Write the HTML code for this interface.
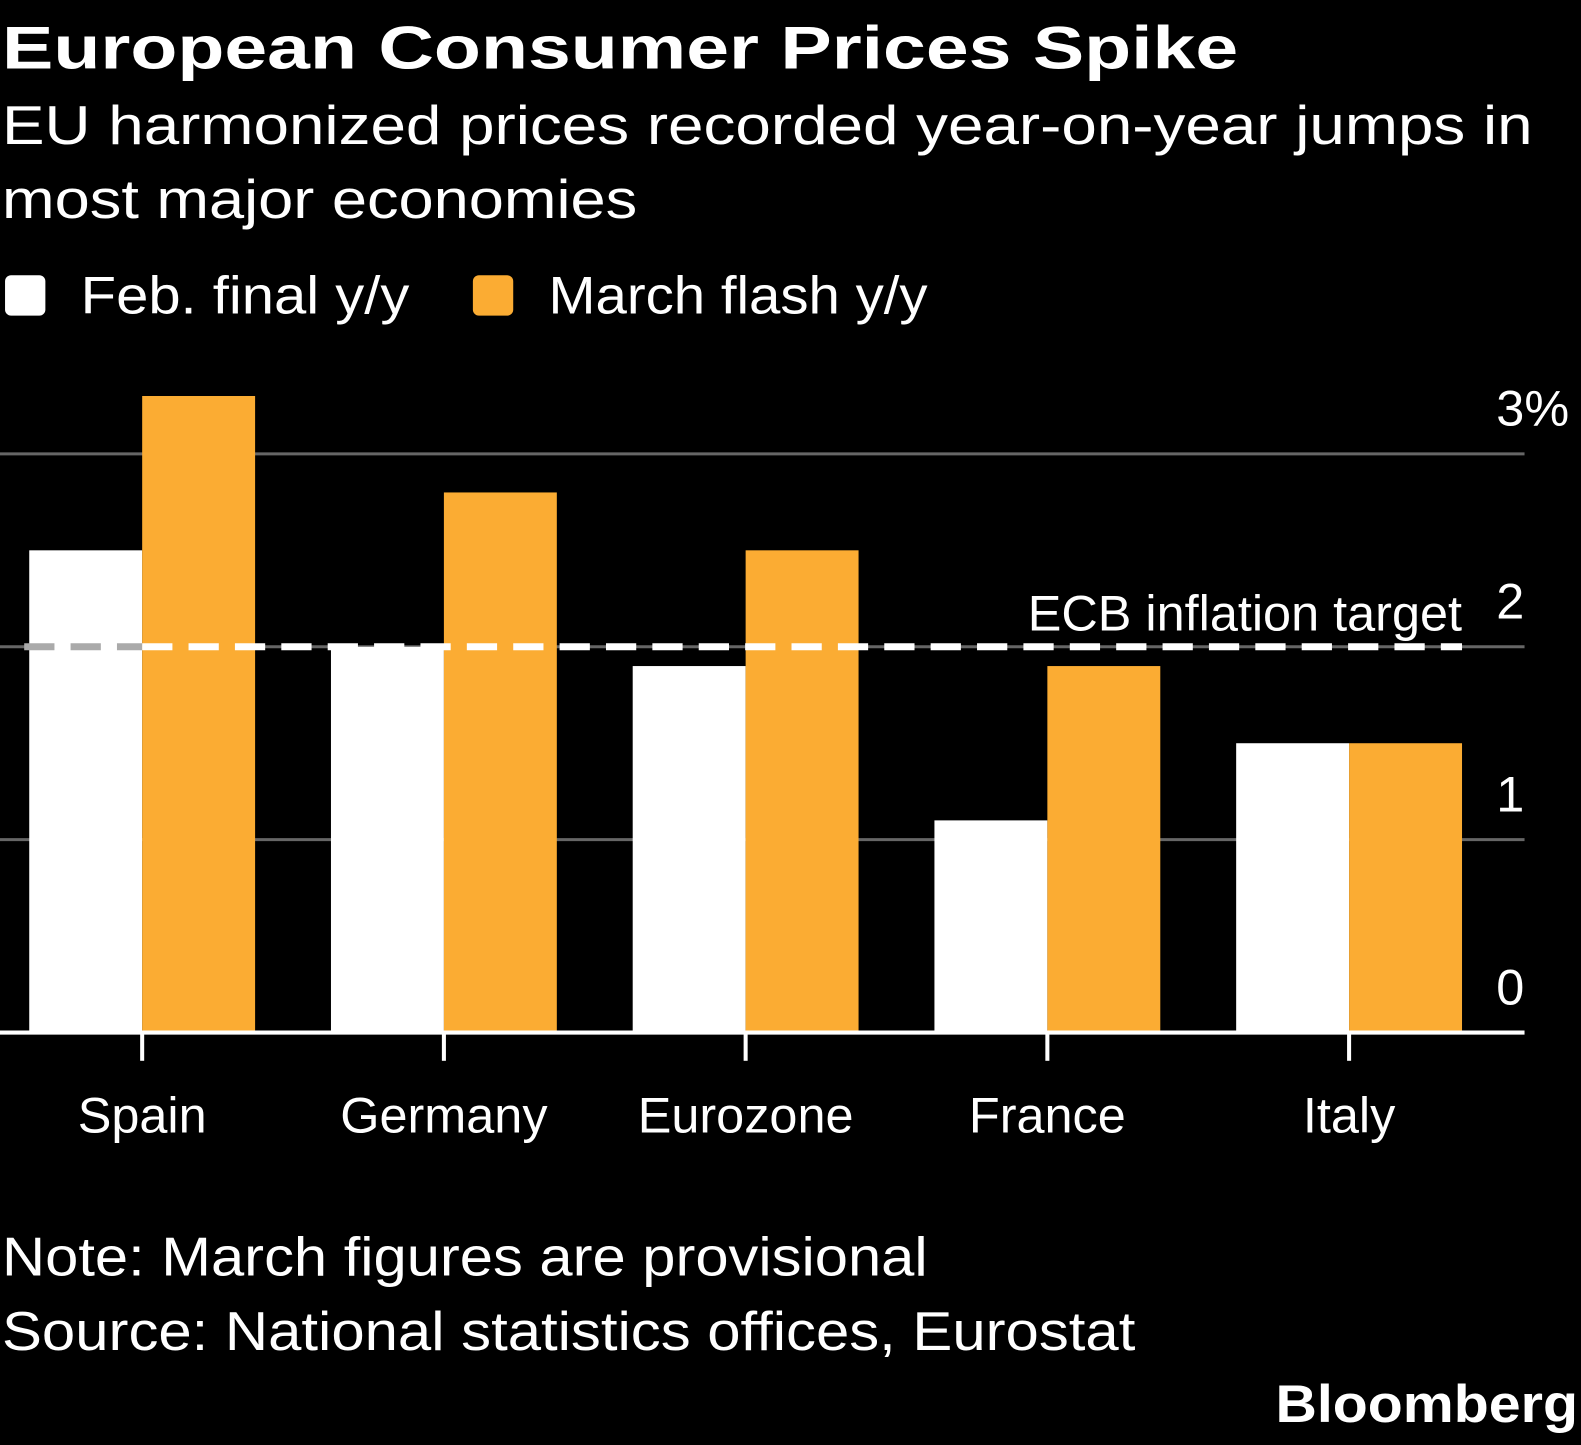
<!DOCTYPE html>
<html><head><meta charset="utf-8"><style>
html,body{margin:0;padding:0;background:#000;}
svg{display:block;font-family:"Liberation Sans",sans-serif;}
</style></head><body>
<svg id="chart" width="1581" height="1445" viewBox="0 0 1568 1433" preserveAspectRatio="none" xmlns="http://www.w3.org/2000/svg">
<rect x="-20" y="-20" width="1640" height="1500" fill="#000"/>
<text x="2" y="68" fill="#fff" font-size="60" font-weight="bold" textLength="1226" lengthAdjust="spacingAndGlyphs">European Consumer Prices Spike</text>
<text x="2" y="143" fill="#fff" font-size="54" textLength="1518" lengthAdjust="spacingAndGlyphs">EU harmonized prices recorded year-on-year jumps in</text>
<text x="2" y="216" fill="#fff" font-size="54" textLength="630" lengthAdjust="spacingAndGlyphs">most major economies</text>
<g>
<rect x="5" y="273" width="40" height="40" rx="6" fill="#fff"/>
<text x="80" y="311" fill="#fff" font-size="52" textLength="326" lengthAdjust="spacingAndGlyphs">Feb. final y/y</text>
<rect x="469" y="273" width="40" height="40" rx="6" fill="#fbac33"/>
<text x="544" y="311" fill="#fff" font-size="52" textLength="376" lengthAdjust="spacingAndGlyphs">March flash y/y</text>
</g>
<g id="grid"></g><g id="bars"></g><g id="axes"></g>
<text x="2" y="1265" fill="#fff" font-size="54" textLength="918" lengthAdjust="spacingAndGlyphs">Note: March figures are provisional</text>
<text x="2" y="1339" fill="#fff" font-size="54" textLength="1124" lengthAdjust="spacingAndGlyphs">Source: National statistics offices, Eurostat</text>
<text x="1265" y="1410" fill="#fff" font-size="52" font-weight="bold" textLength="300" lengthAdjust="spacingAndGlyphs">Bloomberg</text>
</svg>
<script>
const categories = ["Spain","Germany","Eurozone","France","Italy"];
const febValues = [2.5, 2.0, 1.9, 1.1, 1.5];
const marchValues = [3.3, 2.8, 2.5, 1.9, 1.5];
const yTicks = [0, 1, 2, 3];
const yTickLabels = ["0","1","2","3%"];
const targetValue = 2;

const NS="http://www.w3.org/2000/svg";
const y0=1024, unit=191.3;
function yScale(v){return y0 - v*unit;}
function xCenter(i){return 141 + i*299.25;}
const barW=112;
function mk(tag,attrs,parent){const e=document.createElementNS(NS,tag);for(const k in attrs)e.setAttribute(k,attrs[k]);parent.appendChild(e);return e;}
const grid=document.getElementById('grid'), bars=document.getElementById('bars'), axes=document.getElementById('axes');
yTicks.forEach((t,i)=>{
  if(t!==0){const l=mk('line',{x1:0,x2:1512,y1:yScale(t),y2:yScale(t),stroke:'#666','stroke-width':3},grid);
  
  }
  const tx=mk('text',{x:1484,y:yScale(t)-28,fill:'#fff','font-size':50,'text-anchor':'start'},axes);
  tx.textContent=yTickLabels[i];
  
  
});
categories.forEach((c,i)=>{
  const cx=xCenter(i);
  const b1=mk('rect',{x:cx-barW,y:yScale(febValues[i]),width:barW,height:y0-yScale(febValues[i]),fill:'#fff'},bars);
  
  
  const b2=mk('rect',{x:cx,y:yScale(marchValues[i]),width:barW,height:y0-yScale(marchValues[i]),fill:'#fbac33'},bars);
  
  
  const tk=mk('line',{x1:cx,x2:cx,y1:y0,y2:1052,stroke:'#fff','stroke-width':4},axes);
  
  
  const lb=mk('text',{x:cx,y:1123,fill:'#fff','font-size':50,'text-anchor':'middle'},axes);
  lb.textContent=c;
  
  
});
const base=mk('line',{x1:0,x2:1512,y1:y0,y2:y0,stroke:'#fff','stroke-width':4},axes);


const tgL=mk('line',{x1:24,x2:141,y1:yScale(targetValue),y2:yScale(targetValue),stroke:'#aaa','stroke-width':7,'stroke-dasharray':'30 16'},axes);


const tg=mk('line',{x1:141,x2:1450,y1:yScale(targetValue),y2:yScale(targetValue),stroke:'#fff','stroke-width':7,'stroke-dasharray':'30 16'},axes);


const tl=mk('text',{x:1450,y:yScale(targetValue)-16,fill:'#fff','font-size':50,'text-anchor':'end'},axes);
tl.textContent='ECB inflation target';


</script>
</body></html>
